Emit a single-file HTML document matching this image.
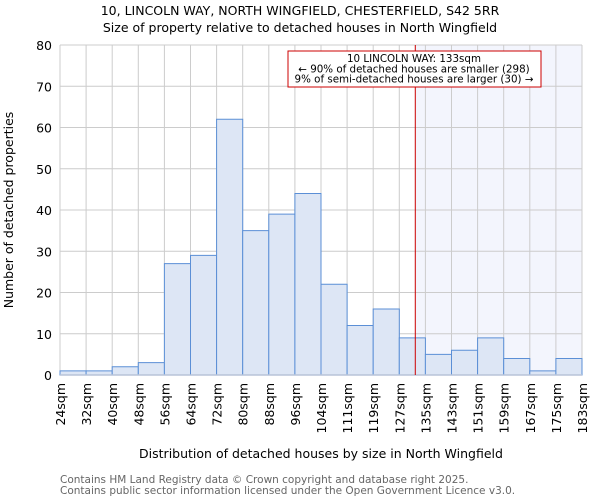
<!DOCTYPE html>
<html><head><meta charset="utf-8"><style>
body{margin:0;background:#fff;font-family:"DejaVu Sans","Liberation Sans",sans-serif}
</style></head><body>
<svg id="chart" width="600" height="500" xmlns="http://www.w3.org/2000/svg" font-family="DejaVu Sans, Liberation Sans, sans-serif">
<text x="300" y="15" text-anchor="middle" font-size="12.5">10, LINCOLN WAY, NORTH WINGFIELD, CHESTERFIELD, S42 5RR</text>
<text x="300" y="32" text-anchor="middle" font-size="12.5">Size of property relative to detached houses in North Wingfield</text>
<g id="plot"></g>
<text x="321" y="458" text-anchor="middle" font-size="12.5">Distribution of detached houses by size in North Wingfield</text>
<text transform="translate(13,210) rotate(-90)" text-anchor="middle" font-size="12.5">Number of detached properties</text>
<text x="60" y="483" font-size="10.5" fill="#666">Contains HM Land Registry data © Crown copyright and database right 2025.</text>
<text x="60" y="494" font-size="10.5" fill="#666">Contains public sector information licensed under the Open Government Licence v3.0.</text>
</svg>
<script>
const binLabels=["24sqm","32sqm","40sqm","48sqm","56sqm","64sqm","72sqm","80sqm","88sqm","96sqm","104sqm","111sqm","119sqm","127sqm","135sqm","143sqm","151sqm","159sqm","167sqm","175sqm","183sqm"];
const binEdges=[24,32,40,48,56,64,72,80,88,96,104,111,119,127,135,143,151,159,167,175,183];
const counts=[1,1,2,3,27,29,62,35,39,44,22,12,16,9,5,6,9,4,1,4];
const yTicks=[0,10,20,30,40,50,60,70,80];
const markerValue=131.9;
const L=60,R=582,T=45,B=375,yMax=80;
const n=counts.length,bw=(R-L)/n;
const xi=i=>L+i*bw;
const xv=v=>{for(let i=0;i<binEdges.length-1;i++){if(v<=binEdges[i+1])return xi(i+(v-binEdges[i])/(binEdges[i+1]-binEdges[i]));}return R;};
const y=v=>B-(v/yMax)*(B-T);
const ns="http://www.w3.org/2000/svg",g=document.getElementById("plot");
function mk(t,a){const e=document.createElementNS(ns,t);for(const k in a)e.setAttribute(k,a[k]);g.appendChild(e);return e;}
const mx=xv(markerValue);
let e=mk("rect",{x:mx,y:T,width:R-mx,height:B-T,fill:"#f3f5fd"});


yTicks.forEach(t=>{let l=mk("line",{x1:L,x2:R,y1:y(t),y2:y(t),stroke:"#ccc"});


let tx=mk("text",{x:L-8,y:y(t)+5,"text-anchor":"end","font-size":"12.5"});tx.textContent=t;

});
binEdges.forEach((b,i)=>{let l=mk("line",{x1:xi(i),x2:xi(i),y1:T,y2:B,stroke:"#ccc"});


let tx=mk("text",{transform:`translate(${xi(i)+5},${B+8}) rotate(-90)`,"text-anchor":"end","font-size":"12.5"});tx.textContent=binLabels[i];

});
counts.forEach((c,i)=>{let r=mk("rect",{x:xi(i),y:y(c),width:bw,height:B-y(c),fill:"#dde6f5",stroke:"#5b8fd6","stroke-width":1});

});
e=mk("line",{x1:L,x2:R,y1:B,y2:B,stroke:"#b8c4d8","stroke-width":1.5});


e=mk("line",{x1:mx,x2:mx,y1:T,y2:B,stroke:"#cc0000","stroke-width":1});


e=mk("rect",{x:288,y:51,width:253,height:36,fill:"#fff",stroke:"#cc0000"});


["10 LINCOLN WAY: 133sqm","← 90% of detached houses are smaller (298)","9% of semi-detached houses are larger (30) →"].forEach((s,i)=>{let t=mk("text",{x:414,y:62+i*10.3,"text-anchor":"middle","font-size":"10.3"});t.textContent=s;

});
</script>
</body></html>
